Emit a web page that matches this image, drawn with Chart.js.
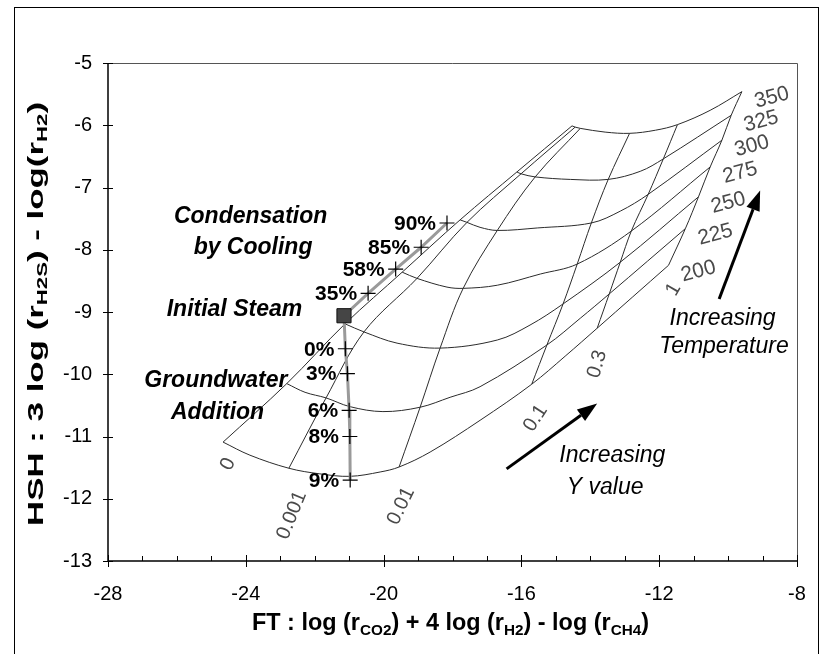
<!DOCTYPE html>
<html>
<head>
<meta charset="utf-8">
<title>FT - HSH grid</title>
<script src="https://cdn.jsdelivr.net/npm/chart.js@4.4.1/dist/chart.umd.min.js"></script>
<style>
  html, body { margin: 0; padding: 0; background: #fff; overflow: hidden; }
  #box { position: relative; width: 836px; height: 654px; }
  #frame { position: absolute; left: 14px; top: 7px; width: 805px; height: 700px; border: 1px solid #000; box-sizing: border-box; }
  #chart { position: absolute; left: 0; top: 0; }
</style>
</head>
<body>
<div id="box">
  <div id="frame"></div>
  <canvas id="chart" width="836" height="654"></canvas>
</div>
<script>
// values: [FT, HSH]
const temps = ['200', '225', '250', '275', '300', '325', '350'];
const yValues = ['0', '0.001', '0.01', '0.1', '0.3', '1'];

// isotherms (lines of constant temperature, deg C)
const iso200 = [[-24.66, -11.09], [-23.88, -11.30], [-22.75, -11.51], [-21.85, -11.60], [-20.98, -11.64], [-20.10, -11.57], [-19.55, -11.49], [-18.65, -11.25], [-17.20, -10.74], [-15.70, -10.16], [-14.73, -9.71], [-13.80, -9.26], [-11.73, -8.25]];
const iso225 = [[-22.81, -10.15], [-22.28, -10.29], [-21.67, -10.38], [-20.98, -10.52], [-20.02, -10.60], [-18.94, -10.53], [-18.07, -10.37], [-17.20, -10.20], [-15.26, -9.53], [-14.29, -9.10], [-13.45, -8.71], [-11.24, -7.66]];
const iso250 = [[-21.12, -9.19], [-20.57, -9.32], [-19.61, -9.50], [-18.36, -9.58], [-16.70, -9.45], [-15.75, -9.21], [-14.79, -8.87], [-13.13, -8.20], [-10.86, -7.15]];
const iso275 = [[-19.46, -8.36], [-19.03, -8.46], [-18.16, -8.60], [-17.69, -8.62], [-16.70, -8.57], [-15.45, -8.39], [-14.38, -8.23], [-12.81, -7.70], [-10.52, -6.67]];
const iso300 = [[-17.78, -7.52], [-17.58, -7.56], [-17.20, -7.64], [-16.70, -7.69], [-15.54, -7.65], [-13.97, -7.57], [-13.13, -7.38], [-12.32, -7.11], [-10.18, -6.24]];
const iso325 = [[-16.13, -6.75], [-16.01, -6.78], [-15.60, -6.83], [-14.58, -6.87], [-13.48, -6.87], [-12.55, -6.74], [-11.88, -6.54], [-9.91, -5.84]];
const iso350 = [[-14.53, -6.01], [-14.44, -6.03], [-14.29, -6.05], [-13.57, -6.11], [-12.86, -6.13], [-12.11, -6.08], [-11.47, -5.99], [-10.52, -5.76], [-9.60, -5.46]];

// lines of constant Y, from 200 up to 350 deg C
const yLine0 = [[-24.66, -11.09], [-22.81, -10.15], [-21.12, -9.19], [-19.46, -8.36], [-17.78, -7.52], [-16.13, -6.75], [-14.53, -6.01]];
const yLine0001 = [[-22.75, -11.51], [-21.67, -10.38], [-20.57, -9.32], [-19.03, -8.46], [-17.58, -7.56], [-16.01, -6.78], [-14.44, -6.03]];
const yLine001 = [[-19.55, -11.49], [-18.94, -10.53], [-18.36, -9.58], [-17.69, -8.62], [-16.70, -7.69], [-15.60, -6.83], [-14.29, -6.05]];
const yLine01 = [[-15.70, -10.16], [-15.26, -9.53], [-14.79, -8.87], [-14.38, -8.23], [-13.97, -7.57], [-13.48, -6.87], [-12.86, -6.13]];
const yLine03 = [[-13.80, -9.26], [-13.45, -8.71], [-13.13, -8.20], [-12.81, -7.70], [-12.32, -7.11], [-11.88, -6.54], [-11.47, -5.99]];
const yLine1 = [[-11.73, -8.25], [-11.24, -7.66], [-10.86, -7.15], [-10.52, -6.67], [-10.18, -6.24], [-9.91, -5.84], [-9.60, -5.46]];

// sample paths
const steam = [[-21.15, -9.06]];
const condensation = [[-21.15, -9.06], [-20.45, -8.70], [-19.65, -8.31], [-18.91, -7.96], [-18.16, -7.57]];
const condensationLabels = ['', '35%', '58%', '85%', '90%'];
const groundwater = [[-21.15, -9.06], [-21.11, -9.59], [-21.05, -9.99], [-21.00, -10.58], [-20.98, -11.00], [-20.97, -11.70]];
const groundwaterLabels = ['', '0%', '3%', '6%', '8%', '9%'];

const fontFamily = "'Liberation Sans', Arial, Helvetica, sans-serif";
const isotherms = [iso200, iso225, iso250, iso275, iso300, iso325, iso350];
const yLines = [yLine0, yLine0001, yLine001, yLine01, yLine03, yLine1];

// text notes, anchored in data units
const notes = [
    { text: 'Condensation', x: -23.86, y: -7.47, font: 'italic bold 23px' },
    { text: 'by Cooling', x: -23.79, y: -7.97, font: 'italic bold 23px' },
    { text: 'Initial Steam', x: -24.33, y: -8.96, font: 'italic bold 23px' },
    { text: 'Groundwater', x: -24.87, y: -10.11, font: 'italic bold 23px' },
    { text: 'Addition', x: -24.82, y: -10.61, font: 'italic bold 23px' },
    { text: 'Increasing', x: -10.16, y: -9.10, font: 'italic 23px' },
    { text: 'Temperature', x: -10.12, y: -9.55, font: 'italic 23px' },
    { text: 'Increasing', x: -13.36, y: -11.31, font: 'italic 23px' },
    { text: 'Y value', x: -13.57, y: -11.82, font: 'italic 23px' }
];
const arrows = [
    { from: [-10.26, -8.79], to: [-9.07, -7.05] },
    { from: [-16.43, -11.52], to: [-13.80, -10.47] }
];
// where the Y labels sit below each line start (px) and their angle
const yLabelOffsets = [[5, 22, -65], [3, 47, -68], [2, 39, -64], [4, 34, -57], [0, 36, -74], [5, 24, -60]];

const toPts = arr => arr.map(p => ({ x: p[0], y: p[1] }));

function gridLine(points) {
    return {
        data: toPts(points),
        showLine: true,
        borderColor: '#2b2b2b',
        borderWidth: 1,
        pointRadius: 0,
        tension: 0.35,
        fill: false
    };
}

const datasets = [
    {
        data: toPts(steam),
        pointStyle: 'rect',
        pointRadius: 10,
        backgroundColor: '#454545',
        borderColor: '#111',
        borderWidth: 1,
        showLine: false
    },
    {
        data: toPts(condensation),
        pointLabels: condensationLabels,
        showLine: true,
        borderColor: '#9a9a9a',
        borderWidth: 3,
        tension: 0,
        pointStyle: 'cross',
        pointRadius: c => c.dataIndex === 0 ? 0 : 7.5,
        pointBorderColor: '#000',
        pointBorderWidth: 1.2
    },
    {
        data: toPts(groundwater),
        pointLabels: groundwaterLabels,
        showLine: true,
        borderColor: '#9a9a9a',
        borderWidth: 3,
        tension: 0,
        pointStyle: 'cross',
        pointRadius: c => c.dataIndex === 0 ? 0 : 7.5,
        pointBorderColor: '#000',
        pointBorderWidth: 1.2
    }
];
const isoStart = datasets.length;
isotherms.forEach(p => datasets.push(gridLine(p)));
const yStart = datasets.length;
yLines.forEach(p => datasets.push(gridLine(p)));

// bold text with subscripts, squeezed or stretched to a given length
function drawRich(ctx, parts, cx, cy, size, length, angle) {
    const subSize = Math.round(size * 0.64);
    ctx.save();
    ctx.translate(cx, cy);
    if (angle) ctx.rotate(angle);
    let total = 0;
    const widths = parts.map(([t, sub]) => {
        ctx.font = 'bold ' + (sub ? subSize : size) + 'px ' + fontFamily;
        const w = ctx.measureText(t).width;
        total += w;
        return w;
    });
    ctx.scale(length / total, 1);
    let x = -total / 2;
    ctx.textAlign = 'left';
    ctx.textBaseline = 'alphabetic';
    ctx.fillStyle = '#000';
    parts.forEach(([t, sub], i) => {
        ctx.font = 'bold ' + (sub ? subSize : size) + 'px ' + fontFamily;
        ctx.fillText(t, x, size * 0.36 + (sub ? size * 0.2 : 0));
        x += widths[i];
    });
    ctx.restore();
}

const decor = {
    id: 'decor',
    afterDraw(chart) {
        const { ctx, chartArea: a, scales: { x, y } } = chart;
        ctx.save();

        // plot frame
        ctx.lineWidth = 1;
        ctx.strokeStyle = '#555';
        ctx.beginPath();
        ctx.moveTo(a.left, a.top + 0.5);
        ctx.lineTo(a.right + 0.5, a.top + 0.5);
        ctx.lineTo(a.right + 0.5, a.bottom);
        ctx.stroke();
        ctx.strokeStyle = '#000';
        ctx.lineWidth = 1.5;
        ctx.beginPath();
        ctx.moveTo(a.left, a.top);
        ctx.lineTo(a.left, a.bottom);
        ctx.lineTo(a.right + 1, a.bottom);
        ctx.stroke();

        // tick marks
        ctx.lineWidth = 1;
        ctx.beginPath();
        for (let v = -28; v <= -8; v++) {
            const px = Math.round(x.getPixelForValue(v)) + 0.5;
            if (v % 4 === 0) {
                ctx.moveTo(px, a.bottom - 6);
                ctx.lineTo(px, a.bottom + 6);
            } else {
                ctx.moveTo(px, a.bottom - 5);
                ctx.lineTo(px, a.bottom);
            }
        }
        for (let v = -13; v <= -5; v++) {
            const py = Math.round(y.getPixelForValue(v)) + 0.5;
            ctx.moveTo(a.left - 5, py);
            ctx.lineTo(a.left + 5, py);
        }
        ctx.stroke();

        // temperature labels at the right end of each isotherm
        ctx.fillStyle = '#4a4a4a';
        ctx.font = '21px ' + fontFamily;
        ctx.textAlign = 'center';
        ctx.textBaseline = 'middle';
        temps.forEach((t, i) => {
            const pts = chart.getDatasetMeta(isoStart + i).data;
            const end = pts[pts.length - 1];
            ctx.save();
            ctx.translate(end.x + 30, end.y + 6);
            ctx.rotate(-15 * Math.PI / 180);
            ctx.fillText(t, 0, 0);
            ctx.restore();
        });

        // Y labels below each line start
        ctx.font = '20px ' + fontFamily;
        yValues.forEach((t, i) => {
            const p = chart.getDatasetMeta(yStart + i).data[0];
            const [dx, dy, ang] = yLabelOffsets[i];
            ctx.save();
            ctx.translate(p.x + dx, p.y + dy);
            ctx.rotate(ang * Math.PI / 180);
            ctx.fillText(t, 0, 0);
            ctx.restore();
        });

        // arrows
        ctx.strokeStyle = '#000';
        ctx.fillStyle = '#000';
        ctx.lineWidth = 3;
        arrows.forEach(ar => {
            const x0 = x.getPixelForValue(ar.from[0]), y0 = y.getPixelForValue(ar.from[1]);
            const x1 = x.getPixelForValue(ar.to[0]), y1 = y.getPixelForValue(ar.to[1]);
            const ang = Math.atan2(y1 - y0, x1 - x0);
            const head = 20, half = 7;
            const bx = x1 - head * Math.cos(ang), by = y1 - head * Math.sin(ang);
            ctx.beginPath();
            ctx.moveTo(x0, y0);
            ctx.lineTo(bx, by);
            ctx.stroke();
            ctx.beginPath();
            ctx.moveTo(x1, y1);
            ctx.lineTo(bx + half * Math.sin(ang), by - half * Math.cos(ang));
            ctx.lineTo(bx - half * Math.sin(ang), by + half * Math.cos(ang));
            ctx.closePath();
            ctx.fill();
        });

        // text notes
        ctx.fillStyle = '#000';
        ctx.textAlign = 'center';
        ctx.textBaseline = 'middle';
        notes.forEach(n => {
            ctx.font = n.font + ' ' + fontFamily;
            ctx.fillText(n.text, x.getPixelForValue(n.x), y.getPixelForValue(n.y));
        });

        // percent labels beside the crosses
        ctx.font = 'bold 21px ' + fontFamily;
        ctx.textAlign = 'right';
        [1, 2].forEach(di => {
            const labels = chart.data.datasets[di].pointLabels;
            chart.getDatasetMeta(di).data.forEach((pt, j) => {
                if (labels[j]) ctx.fillText(labels[j], pt.x - 11, pt.y + 1);
            });
        });

        // axis titles with subscripts
        drawRich(ctx, [['FT : log (r', 0], ['CO2', 1], [') + 4 log (r', 0], ['H2', 1], [') - log (r', 0], ['CH4', 1], [')', 0]],
            (a.left + a.right) / 2 - 2, 622, 23, 397, 0);
        drawRich(ctx, [['HSH : 3 log (r', 0], ['H2S', 1], [') - log(r', 0], ['H2', 1], [')', 0]],
            35, 314, 22, 424, -Math.PI / 2);

        ctx.restore();
    }
};

Chart.defaults.font.family = fontFamily;
Chart.defaults.color = '#000';

new Chart(document.getElementById('chart').getContext('2d'), {
    type: 'scatter',
    data: { datasets: datasets },
    options: {
        responsive: false,
        devicePixelRatio: 1,
        animation: false,
        events: [],
        layout: { padding: { top: 63, right: 39, left: 0, bottom: 0 } },
        plugins: { legend: { display: false }, tooltip: { enabled: false } },
        scales: {
            x: {
                type: 'linear',
                min: -28,
                max: -8,
                afterFit: s => { s.height = 93; },
                ticks: { stepSize: 4, padding: 21, maxRotation: 0, font: { size: 20 }, color: '#000' },
                grid: { display: false, drawTicks: false },
                border: { display: false }
            },
            y: {
                type: 'linear',
                min: -13,
                max: -5,
                afterFit: s => { s.width = 108; },
                ticks: { stepSize: 1, padding: 16, font: { size: 20 }, color: '#000' },
                grid: { display: false, drawTicks: false },
                border: { display: false }
            }
        }
    },
    plugins: [decor]
});
</script>
</body>
</html>
